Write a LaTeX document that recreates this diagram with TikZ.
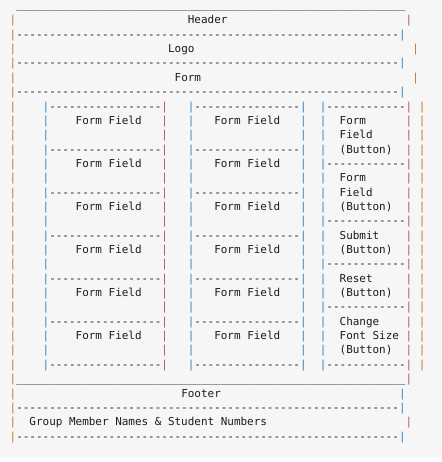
\documentclass[tikz,border=0pt]{standalone}
\usepackage{fontspec}
\setmonofont{DejaVu Sans Mono}
\definecolor{bgpage}{HTML}{F6F6F6}
\definecolor{ink}{HTML}{1C1C1C}
\definecolor{barO}{HTML}{BF7A22}
\definecolor{barB}{HTML}{2F86C8}
\definecolor{barR}{HTML}{AD5A66}
\ExplSyntaxOn
\cs_new:Npn \rep #1#2 { \prg_replicate:nn {#1} {#2} }
\ExplSyntaxOff
\tikzset{
  chars/.style={anchor=base west, inner sep=0pt, outer sep=0pt, text=ink,
    font=\ttfamily\fontsize{10.96}{14.35}\selectfont},
}
\newcommand{\barcol}[4]{%
  \foreach \r in {#2,...,#3}
    \node[chars, text=#4] (bar#1-\r) at (#1,\r) {|};}

\begin{document}
\begin{tikzpicture}[x=6.6pt, y=-14.35pt]
\useasboundingbox (-1.47,-0.669) rectangle (65.5,31.53);
\fill[bgpage] (-1.47,-0.669) rectangle (65.5,31.18);
\node[chars] (top) at (1,-0.1) {\rep{59}{\_}};
\node[chars] (header) at (27,1) {Header};
\node[chars] (rule-a) at (1,2) {\rep{58}{-}};
\node[chars] (logo) at (24,3) {Logo};
\node[chars] (rule-b) at (1,4) {\rep{58}{-}};
\node[chars] (form) at (25,5) {Form};
\node[chars] (rule-c) at (1,6) {\rep{58}{-}};
\foreach \r in {7,10,...,25} {
  \node[chars] (left-\r) at (6,\r) {\rep{17}{-}};
  \node[chars] (mid-\r) at (28,\r) {\rep{16}{-}};
}
\foreach \r in {8,11,...,23} {
  \node[chars] (fieldl-\r) at (10,\r) {Form Field};
  \node[chars] (fieldm-\r) at (31,\r) {Form Field};
}
\foreach \r in {7,11,15,18,21,25}
  \node[chars] (right-\r) at (48,\r) {\rep{12}{-}};
\node[chars] (btn-a1) at (50,8) {Form};
\node[chars] (btn-a2) at (50,9) {Field};
\node[chars] (btn-a3) at (50,10) {(Button)};
\node[chars] (btn-b1) at (50,12) {Form};
\node[chars] (btn-b2) at (50,13) {Field};
\node[chars] (btn-b3) at (50,14) {(Button)};
\node[chars] (submit) at (50,16) {Submit};
\node[chars] (btn-c) at (50,17) {(Button)};
\node[chars] (reset) at (50,19) {Reset};
\node[chars] (btn-d) at (50,20) {(Button)};
\node[chars] (change) at (50,22) {Change};
\node[chars] (fontsize) at (50,23) {Font Size};
\node[chars] (btn-e) at (50,24) {(Button)};
\node[chars] (bottom) at (1,26) {\rep{59}{\_}};
\node[chars] (footer) at (26,27) {Footer};
\node[chars] (rule-d) at (1,28) {\rep{58}{-}};
\node[chars] (names) at (3,29) {Group Member Names \& Student Numbers};
\node[chars] (rule-e) at (1,30) {\rep{58}{-}};
\barcol{0}{1}{30}{barO}
\barcol{60}{1}{1}{barR}
\foreach \r in {2,4,6} \node[chars, text=barB] (bar59-\r) at (59,\r) {|};
\foreach \r in {3,5} \node[chars, text=barO] (bar61-\r) at (61,\r) {|};
\barcol{5}{7}{25}{barB}
\barcol{23}{7}{25}{barR}
\barcol{27}{7}{25}{barB}
\barcol{44}{7}{25}{barB}
\barcol{47}{7}{25}{barB}
\barcol{60}{7}{25}{barR}
\barcol{62}{7}{25}{barO}
\foreach \r in {26,29} \node[chars, text=barR] (bar60-\r) at (60,\r) {|};
\foreach \r in {27,28,30} \node[chars, text=barB] (bar59-\r) at (59,\r) {|};
\end{tikzpicture}
\end{document}
